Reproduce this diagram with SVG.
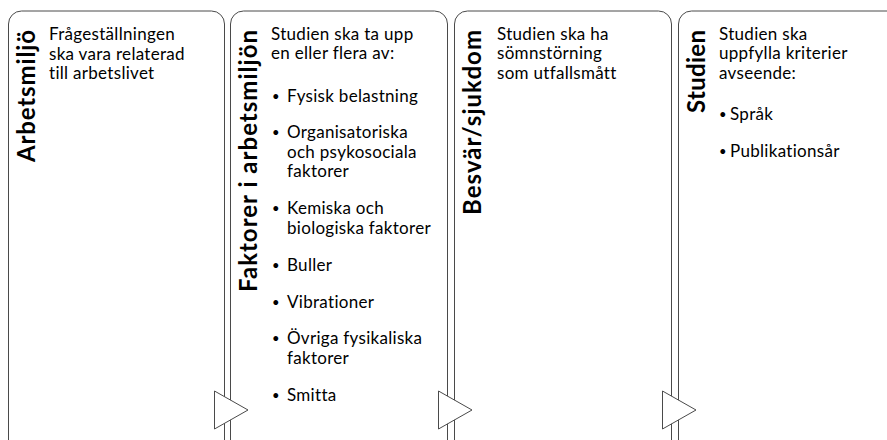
<svg xmlns="http://www.w3.org/2000/svg" width="887" height="440" viewBox="0 0 887 440">
  <style>
    .panel { fill: #fff; stroke: #4a4a4a; stroke-width: 1; }
    .title { font-family: Lato, "Open Sans", "Liberation Sans", sans-serif; font-weight: bold; font-size: 24px; fill: #000; text-anchor: end; }
    .body { font-family: Lato, "Open Sans", "Liberation Sans", sans-serif; font-size: 17px; letter-spacing: 0.3px; fill: #000; }
    .dot { font-size: 13px; }
    .arrow { fill: #fff; stroke: #4a4a4a; stroke-width: 1; }
  </style>
  <rect width="887" height="440" fill="#fff"/>

  <g id="panel-arbetsmiljo">
    <path class="panel" d="M8.5,450 V24 A13,13 0 0 1 21.5,11 H211.5 A13,13 0 0 1 224.5,24 V450"/>
    <text class="title" transform="translate(35,30) rotate(-90)" textLength="132" lengthAdjust="spacing">Arbetsmiljö</text>
    <text class="body">
      <tspan x="49" y="40">Frågeställningen</tspan>
      <tspan x="49" y="59.5">ska vara relaterad</tspan>
      <tspan x="49" y="79">till arbetslivet</tspan>
    </text>
  </g>

  <g id="panel-faktorer">
    <path class="panel" d="M230.5,450 V24 A13,13 0 0 1 243.5,11 H434.5 A13,13 0 0 1 447.5,24 V450"/>
    <text class="title" transform="translate(257,30) rotate(-90)" textLength="262" lengthAdjust="spacing">Faktorer i arbetsmiljön</text>
    <text class="body">
      <tspan x="271" y="39.5">Studien ska ta upp</tspan>
      <tspan x="271" y="59">en eller flera av:</tspan>
    </text>
    <text class="body">
      <tspan class="dot" x="272" y="100.5">•</tspan><tspan x="287" y="101.5">Fysisk belastning</tspan>
      <tspan class="dot" x="272" y="137.3">•</tspan><tspan x="287" y="138.3">Organisatoriska</tspan>
      <tspan x="287" y="157.8">och psykosociala</tspan>
      <tspan x="287" y="177.3">faktorer</tspan>
      <tspan class="dot" x="272" y="213.3">•</tspan><tspan x="287" y="214.3">Kemiska och</tspan>
      <tspan x="287" y="233.8">biologiska faktorer</tspan>
      <tspan class="dot" x="272" y="269.8">•</tspan><tspan x="287" y="270.8">Buller</tspan>
      <tspan class="dot" x="272" y="306.5">•</tspan><tspan x="287" y="307.5">Vibrationer</tspan>
      <tspan class="dot" x="272" y="343.2">•</tspan><tspan x="287" y="344.2">Övriga fysikaliska</tspan>
      <tspan x="287" y="363.7">faktorer</tspan>
      <tspan class="dot" x="272" y="399.5">•</tspan><tspan x="287" y="400.5">Smitta</tspan>
    </text>
  </g>

  <g id="panel-besvar">
    <path class="panel" d="M454.5,450 V24 A13,13 0 0 1 467.5,11 H658.5 A13,13 0 0 1 671.5,24 V450"/>
    <text class="title" transform="translate(481,30) rotate(-90)" textLength="185" lengthAdjust="spacing">Besvär/sjukdom</text>
    <text class="body">
      <tspan x="497" y="39.5">Studien ska ha</tspan>
      <tspan x="497" y="59">sömnstörning</tspan>
      <tspan x="497" y="78.5">som utfallsmått</tspan>
    </text>
  </g>

  <g id="panel-studien">
    <path class="panel" d="M678.5,450 V24 A13,13 0 0 1 691.5,11 H900"/>
    <text class="title" transform="translate(705,30) rotate(-90)" textLength="83" lengthAdjust="spacing">Studien</text>
    <text class="body">
      <tspan x="719" y="39.5">Studien ska</tspan>
      <tspan x="719" y="59">uppfylla kriterier</tspan>
      <tspan x="719" y="78.5">avseende:</tspan>
      <tspan class="dot" x="719" y="119">•</tspan><tspan x="730" y="120">Språk</tspan>
      <tspan class="dot" x="719" y="155.7">•</tspan><tspan x="730" y="156.7">Publikationsår</tspan>
    </text>
  </g>

  <g id="connectors">
    <polygon class="arrow" points="214.5,391 248,410 214.5,429"/>
    <polygon class="arrow" points="438.5,391 472,410 438.5,429"/>
    <polygon class="arrow" points="662.5,391 696,410 662.5,429"/>
  </g>
</svg>
